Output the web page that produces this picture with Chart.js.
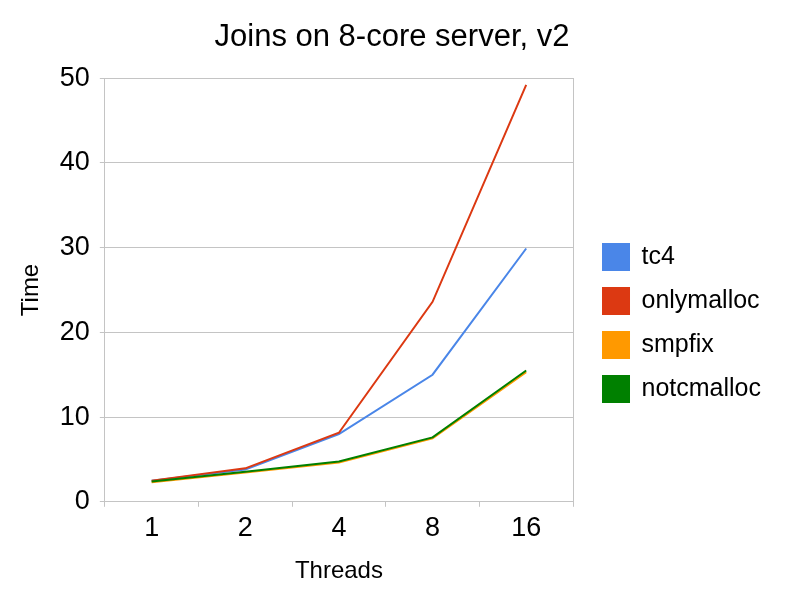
<!DOCTYPE html>
<html>
<head>
<meta charset="utf-8">
<script src="https://cdn.jsdelivr.net/npm/chart.js@4/dist/chart.umd.min.js"></script>
<style>
html,body{margin:0;padding:0;background:#fff;}
#wrap{width:800px;height:600px;}
</style>
</head>
<body>
<div id="wrap"><canvas id="c" width="800" height="600"></canvas></div>
<script>
const categories = ['1', '2', '4', '8', '16'];
const tc4 = [2.5, 3.8, 8.0, 15.0, 29.9];
const onlymalloc = [2.5, 3.95, 8.15, 23.6, 49.2];
const smpfix = [2.3, 3.45, 4.65, 7.5, 15.3];
const notcmalloc = [2.4, 3.55, 4.75, 7.6, 15.5];
const yTicks = [0, 10, 20, 30, 40, 50];

const FONT = "'Liberation Sans', Arial, sans-serif";
const GRID = '#c4c4c4';

function ds(label, data, color, order) {
  return {label, data, borderColor: color, backgroundColor: color, borderWidth: 2,
    pointRadius: 0, pointHoverRadius: 0, tension: 0, fill: false, order};
}

new Chart(document.getElementById('c'), {
  type: 'line',
  data: {
    labels: categories,
    datasets: [
      ds('tc4', tc4, '#4a86e8', 4),
      ds('onlymalloc', onlymalloc, '#dc3912', 3),
      ds('smpfix', smpfix, '#ff9900', 2),
      ds('notcmalloc', notcmalloc, '#008000', 1)
    ]
  },
  options: {
    responsive: false,
    animation: false,
    events: [],
    layout: {padding: {left: 13, right: 29, top: 0, bottom: 0}},
    plugins: {
      tooltip: {enabled: false},
      title: {
        display: true,
        text: 'Joins on 8-core server, v2',
        color: '#000',
        font: {family: FONT, size: 31, weight: 'normal'},
        padding: {top: 19, bottom: 22}
      },
      legend: {
        position: 'right',
        maxWidth: 210,
        title: {display: true, text: ' ', font: {size: 10}, padding: {top: 17, bottom: 17}},
        labels: {
          color: '#000',
          font: {family: FONT, size: 25},
          boxWidth: 26,
          boxHeight: 26,
          padding: 18,
          sort: (a, b) => a.datasetIndex - b.datasetIndex
        }
      }
    },
    scales: {
      x: {
        type: 'category',
        offset: true,
        grid: {display: true, drawOnChartArea: false, offset: true, color: GRID, tickLength: 5, tickColor: GRID},
        border: {display: true, color: GRID},
        ticks: {color: '#000', font: {family: FONT, size: 27}, padding: 6, maxRotation: 0},
        title: {display: true, text: 'Threads', color: '#000', font: {family: FONT, size: 24}, padding: {top: 6, bottom: 14}}
      },
      y: {
        min: 0,
        max: 50,
        afterBuildTicks: s => { s.ticks = yTicks.map(v => ({value: v})); },
        grid: {color: GRID, tickLength: 5, tickColor: GRID},
        border: {display: true, color: GRID},
        ticks: {color: '#000', font: {family: FONT, size: 27}, padding: 10},
        title: {display: true, text: 'Time', color: '#000', font: {family: FONT, size: 24}, padding: {top: 4, bottom: 4}}
      },
      y2: {
        position: 'right',
        min: 0,
        max: 50,
        grid: {display: false},
        border: {display: true, color: GRID},
        ticks: {display: false},
        afterFit: s => { s.width = 12; }
      }
    }
  }
});
</script>
</body>
</html>
